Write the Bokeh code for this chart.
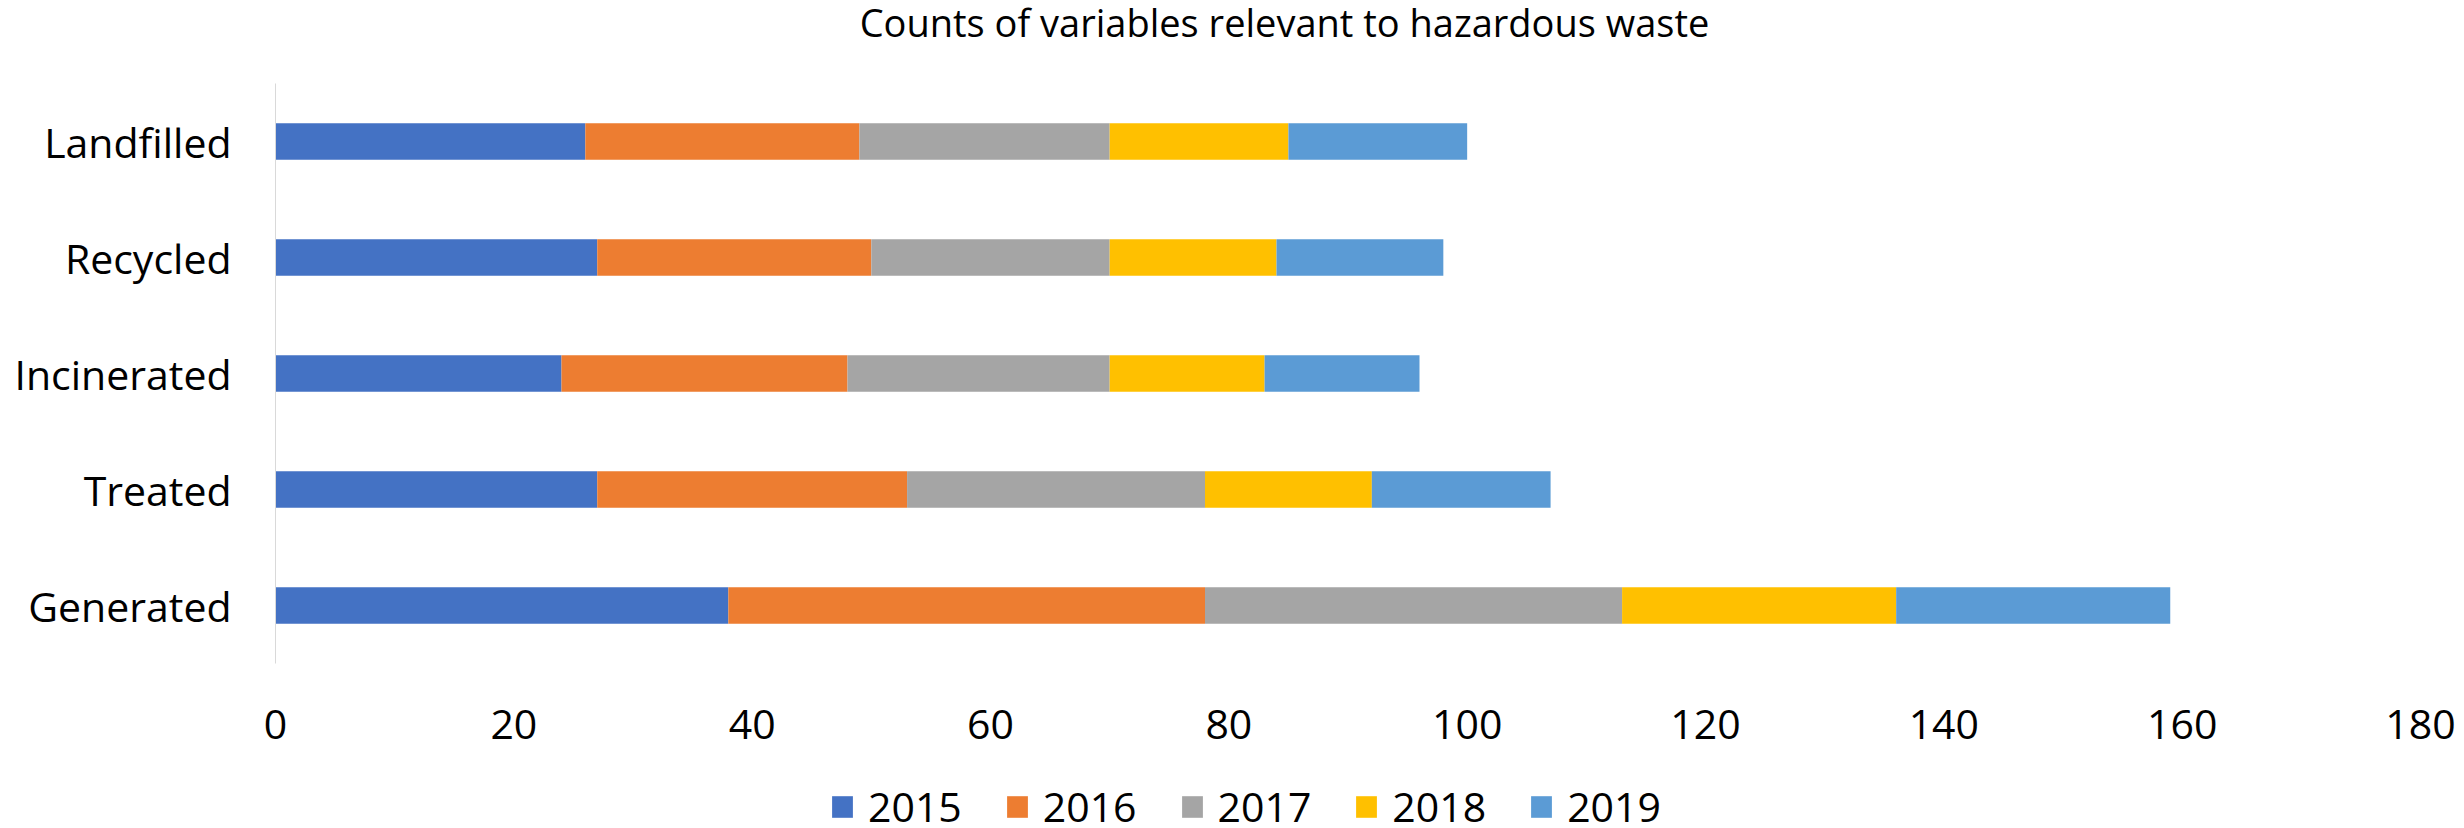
from bokeh.plotting import figure
from bokeh.layouts import column
from bokeh.models import FactorRange, Range1d, FixedTicker, Legend, LegendItem, Label, ColumnDataSource
from bokeh.embed import file_html
from bokeh.resources import INLINE

# ---- data ----
categories = ["Generated", "Treated", "Incinerated", "Recycled", "Landfilled"]
years = ["2015", "2016", "2017", "2018", "2019"]
v2015 = [38, 27, 24, 27, 26]
v2016 = [40, 26, 24, 23, 23]
v2017 = [35, 25, 22, 20, 21]
v2018 = [23, 14, 13, 14, 15]
v2019 = [23, 15, 13, 14, 15]
x_ticks = [0, 20, 40, 60, 80, 100, 120, 140, 160, 180]
title_text = "Counts of variables relevant to hazardous waste"

colors = ["#4472C4", "#ED7D31", "#A5A5A5", "#FFC000", "#5B9BD5"]
FONT = "Open Sans"
FS = "41px"
W = 2464
BL, BR = 275, 44

source = ColumnDataSource(dict(cat=categories, **{"2015": v2015, "2016": v2016, "2017": v2017,
                                                  "2018": v2018, "2019": v2019}))

# ---- title strip ----
p0 = figure(width=W, height=50, x_range=Range1d(0, 180), y_range=Range1d(0, 50),
            x_axis_type=None, y_axis_type=None,
            min_border_left=BL, min_border_right=BR, min_border_top=0, min_border_bottom=0,
            output_backend="svg", toolbar_location=None)
p0.outline_line_color = None
p0.grid.visible = False
p0.add_layout(Label(x=84.67, y=29, x_units="data", y_units="data", text=title_text,
                    text_align="center", text_baseline="alphabetic",
                    text_font=FONT, text_font_size="38px", text_color="#000000"))

# ---- main chart ----
p = figure(y_range=FactorRange(factors=categories), x_range=Range1d(0, 180),
           width=W, height=720,
           min_border_left=BL, min_border_right=BR, min_border_top=33, min_border_bottom=107,
           output_backend="svg", toolbar_location=None)
p.outline_line_color = None
p.xgrid.grid_line_color = None
p.ygrid.grid_line_color = None

renderers = p.hbar_stack(years, y="cat", height=0.316, color=colors, source=source, line_color=None)

p.xaxis.ticker = FixedTicker(ticks=x_ticks)
p.xaxis.axis_line_color = None
p.xaxis.major_tick_line_color = None
p.xaxis.minor_tick_line_color = None
p.xaxis.major_label_standoff = 40
p.xaxis.major_label_text_font = FONT
p.xaxis.major_label_text_font_size = FS
p.xaxis.major_label_text_color = "#000000"

p.yaxis.axis_line_color = "#D9D9D9"
p.yaxis.axis_line_width = 1
p.yaxis.major_tick_line_color = None
p.yaxis.minor_tick_line_color = None
p.yaxis.major_tick_out = 0
p.yaxis.major_tick_in = 0
p.yaxis.major_label_standoff = 44
p.yaxis.major_label_text_font = FONT
p.yaxis.major_label_text_font_size = FS
p.yaxis.major_label_text_color = "#000000"

# ---- legend strip ----
p2 = figure(y_range=FactorRange(factors=categories), x_range=Range1d(0, 180),
            width=W, height=58, x_axis_type=None, y_axis_type=None,
            min_border_left=BL, min_border_right=BR, min_border_top=0, min_border_bottom=0,
            output_backend="svg", toolbar_location=None)
p2.outline_line_color = None
p2.grid.visible = False
leg_renderers = p2.hbar_stack(years, y="cat", height=0.316, color=colors, source=source,
                              line_color=None, visible=False)
legend = Legend(items=[LegendItem(label=y, renderers=[r]) for y, r in zip(years, leg_renderers)],
                orientation="horizontal", location=(554, -6),
                glyph_width=26, glyph_height=27, label_standoff=13, spacing=42,
                padding=0, margin=0, border_line_color=None, background_fill_alpha=0,
                inactive_fill_alpha=0,
                label_text_font=FONT, label_text_font_size=FS, label_text_color="#000000")
p2.add_layout(legend)

layout = column(p0, p, p2, spacing=0)
open("out.html", "w").write(file_html(layout, INLINE))
